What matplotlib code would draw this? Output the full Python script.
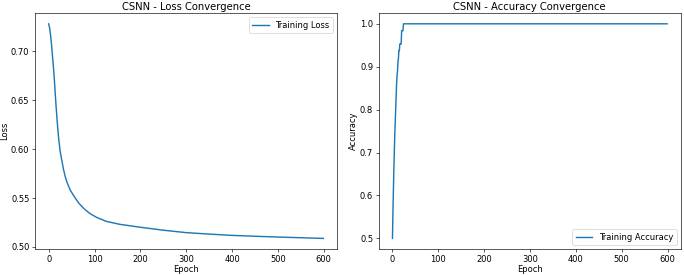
import numpy as np
import matplotlib.pyplot as plt

# values
loss_epochs = [0, 2, 4, 6, 8, 10, 12, 14, 16, 18, 20, 22, 25, 28, 32, 36, 40,
               47, 55, 65, 77, 90, 105, 126, 155, 200, 250, 300, 350, 400,
               450, 500, 550, 599]
loss_vals = [0.728, 0.724, 0.717, 0.708, 0.697, 0.686, 0.674, 0.659, 0.645,
             0.632, 0.620, 0.610, 0.598, 0.590, 0.580, 0.572, 0.566, 0.558,
             0.552, 0.545, 0.539, 0.534, 0.530, 0.526, 0.523, 0.520, 0.517,
             0.5145, 0.513, 0.5117, 0.5108, 0.5100, 0.5093, 0.5086]

acc_epochs = [0, 1, 2, 3, 4, 5, 6, 7, 8, 9, 10, 11, 12, 13, 14, 15, 16,
              17, 18, 19, 20, 21, 22, 23, 24, 599]
acc_vals = [0.5, 0.56, 0.61, 0.66, 0.70, 0.74, 0.77, 0.80, 0.83, 0.86, 0.88,
            0.89, 0.91, 0.92, 0.9375, 0.9375, 0.953, 0.953, 0.953, 0.953,
            0.984, 0.984, 0.984, 0.984, 1.0, 1.0]

plt.rcParams['font.size'] = 10.5

fig, (ax1, ax2) = plt.subplots(1, 2, figsize=(12, 4.82), dpi=57.08)
fig.subplots_adjust(left=0.051, right=0.994, bottom=0.094, top=0.952,
                    wspace=0.138)

ax1.plot(loss_epochs, loss_vals, lw=1.8, label='Training Loss')
ax1.set_title('CSNN - Loss Convergence', pad=4)
ax1.set_xlabel('Epoch', labelpad=2)
ax1.set_ylabel('Loss', labelpad=2)
ax1.legend()

ax2.plot(acc_epochs, acc_vals, lw=1.8, label='Training Accuracy')
ax2.set_title('CSNN - Accuracy Convergence', pad=4)
ax2.set_xlabel('Epoch', labelpad=2)
ax2.set_ylabel('Accuracy', labelpad=2)
ax2.legend()

plt.savefig('out.png')
